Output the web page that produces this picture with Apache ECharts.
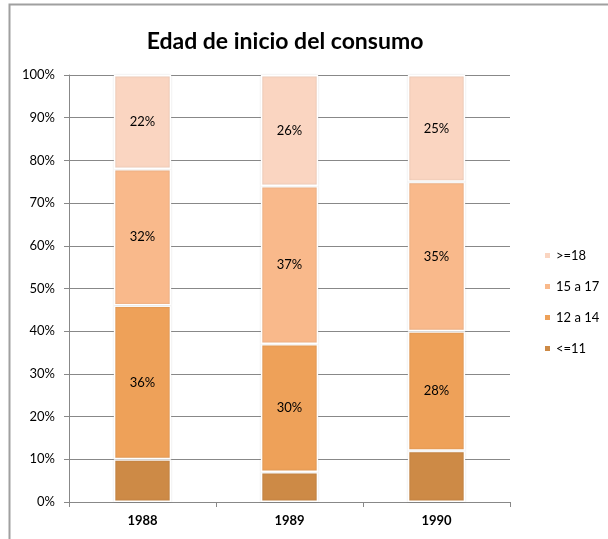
<!DOCTYPE html>
<html><head><meta charset="utf-8">
<script src="https://cdn.jsdelivr.net/npm/echarts@6/dist/echarts.min.js"></script>
<style>html,body{margin:0;padding:0;background:#fff}#c{width:608px;height:539px}</style>
</head><body><div id="c"></div>
<script>
const categories = ['1988', '1989', '1990'];
const seriesNames = ['<=11', '12 a 14', '15 a 17', '>=18'];
const le11 = [10, 7, 12];
const s12a14 = [36, 30, 28];
const s15a17 = [32, 37, 35];
const ge18 = [22, 26, 25];
const yTicks = [0, 10, 20, 30, 40, 50, 60, 70, 80, 90, 100];
const showLabels = [false, true, true, true];
const colors = ['#CD8A46', '#EEA159', '#F9B98B', '#FAD5C1'];

const chart = echarts.init(document.getElementById('c'));
const dataArr = [le11, s12a14, s15a17, ge18];
const font = 'Lato, "Open Sans", sans-serif';
chart.setOption({
  animation: false,
  title: {text: 'Edad de inicio del consumo', left: 280, top: 25, textAlign: 'center',
    textStyle: {fontSize: 23, fontWeight: 'bold', color: '#000', fontFamily: font}},
  graphic: [{type: 'rect', shape: {x: 9.5, y: 4.5, width: 700, height: 700}, style: {fill: 'none', stroke: '#a0a0a0', lineWidth: 2}, silent: true}],
  legend: {orient: 'vertical', left: 538, top: 244, itemGap: 18, itemWidth: 7, itemHeight: 7,
    data: seriesNames.slice().reverse(), icon: 'rect',
    textStyle: {fontSize: 13, color: '#000', fontFamily: font}},
  grid: {left: 69, right: 98, top: 75, bottom: 37},
  xAxis: {type: 'category', data: categories,
    axisLine: {lineStyle: {color: '#888', width: 1}},
    axisTick: {show: true, length: 5, lineStyle: {color: '#888'}},
    axisLabel: {fontWeight: 'bold', fontSize: 13, color: '#000', margin: 12, fontFamily: font}},
  yAxis: {type: 'value', min: 0, max: 100, interval: 10,
    axisLine: {show: true, lineStyle: {color: '#888'}},
    axisTick: {show: true, length: 5, lineStyle: {color: '#888'}},
    splitLine: {lineStyle: {color: '#888', width: 1}},
    axisLabel: {formatter: v => v + '%', fontSize: 13, color: '#000', margin: 14, fontFamily: font}},
  series: seriesNames.map((n, i) => ({
    name: n, type: 'bar', stack: 'a', barWidth: '39%', data: dataArr[i],
    itemStyle: {color: colors[i], borderColor: '#fff', borderWidth: 1.5,
      shadowColor: 'rgba(0,0,0,0.15)', shadowBlur: 2},
    label: {show: showLabels[i], position: 'inside', formatter: p => p.value + '%',
      fontSize: 13, color: '#000', fontFamily: font}
  }))
});
</script></body></html>
